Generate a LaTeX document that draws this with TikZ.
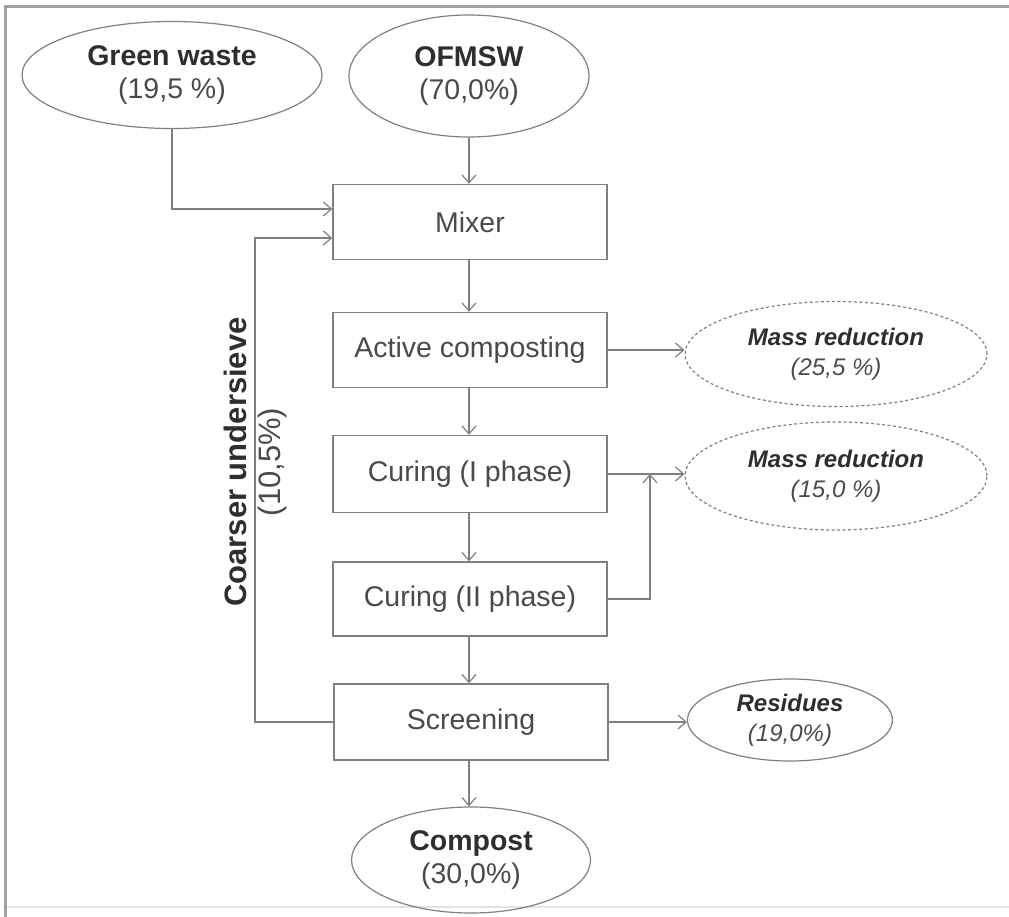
\documentclass[tikz,border=0pt]{standalone}
\usepackage{fontspec}
\setmainfont{Liberation Sans}
\usetikzlibrary{shapes.geometric,arrows.meta}
\definecolor{linec}{HTML}{808080}
\definecolor{txtc}{HTML}{2E2E2E}
\definecolor{pctc}{HTML}{4A4A4A}
\definecolor{framec}{HTML}{A0A0A0}
\definecolor{framelc}{HTML}{E2E2E2}
\begin{document}
\begin{tikzpicture}[x=1pt,y=-1pt,
  box/.style={draw=linec, line width=1.4pt, minimum width=274pt, minimum height=75pt, inner sep=0pt, font=\fontsize{28.5}{33}\selectfont, text=pctc},
  ell/.style={draw=linec, line width=1.2pt, ellipse, inner sep=0pt, align=center, font=\fontsize{28.5}{33}\selectfont, text=pctc},
  dell/.style={ell, dash pattern=on 3pt off 2.5pt, font=\fontsize{24}{30}\selectfont\itshape},
  rell/.style={ell, font=\fontsize{24}{30}\selectfont\itshape},
  arr/.style={draw=linec, line width=1.4pt, -{Straight Barb[length=8pt,width=14pt,line width=1.2pt]}},
  ln/.style={draw=linec, line width=1.4pt}]
\useasboundingbox (0,0) rectangle (1009,917);
\fill[white] (0,0) rectangle (1009,917);
% frame
\draw[framelc, line width=2pt] (5,907) -- (1009,907);
\draw[framec, line width=3pt] (5,917) -- (5,7) -- (1009,7);

% top inputs
\node[ell, minimum width=300pt, minimum height=107pt] (gw) at (172,75)
  {\textcolor{txtc}{\textbf{Green waste}}\\(19,5 \%)};
\node[ell, minimum width=240pt, minimum height=122pt] (of) at (469,76)
  {\textcolor{txtc}{\textbf{OFMSW}}\\(70,0\%)};

% process boxes
\node[box] (mix) at (470,222) {Mixer};
\node[box] (act) at (470,350) {Active composting};
\node[box, minimum height=77pt] (c1) at (470,474) {Curing (I phase)};
\node[box, minimum height=74pt] (c2) at (470,599) {Curing (II phase)};
\node[box, minimum height=76pt] (scr) at (471,722) {Screening};

% outputs
\node[dell, minimum width=302pt, minimum height=105pt] (m1) at (836,354)
  {\textcolor{txtc}{\textbf{Mass reduction}}\\(25,5 \%)};
\node[dell, minimum width=302pt, minimum height=108pt] (m2) at (836,476)
  {\textcolor{txtc}{\textbf{Mass reduction}}\\(15,0 \%)};
\node[rell, minimum width=205pt, minimum height=82pt] (res) at (790,720)
  {\textcolor{txtc}{\textbf{Residues}}\\(19,0\%)};
\node[ell, minimum width=239pt, minimum height=106pt] (cp) at (471,860)
  {\textcolor{txtc}{\textbf{Compost}}\\(30,0\%)};

% recycle label
\coordinate (cl) at (255,462);
\node[rotate=90, align=center, inner sep=0pt, font=\fontsize{31}{34}\selectfont, text=pctc] (lab) at (cl)
  {\textcolor{txtc}{\textbf{Coarser undersieve}}\\(10,5\%)};
\coordinate (jn) at (650,474);

% connectors
\draw[arr] (of.south) -- (of.south |- mix.north);
\draw[arr] (gw.south) |- ([yshift=13pt]mix.west);
\draw[arr] (scr.west) -- (scr.west -| cl) |- ([yshift=-16pt]mix.west);
\draw[arr] (mix.south -| of.south) -- (act.north -| of.south);
\draw[arr] (act.south -| of.south) -- (c1.north -| of.south);
\draw[arr] (c1.south -| of.south) -- (c2.north -| of.south);
\draw[arr] (c2.south -| of.south) -- (scr.north -| of.south);
\draw[arr] (scr.south -| of.south) -- (cp.north -| of.south);
\draw[arr] (act.east) -- (act.east -| m1.west);
\draw[arr] (c1.east) -- (c1.east -| m2.west);
\draw[arr] (c2.east) -| (jn);
\draw[arr] (scr.east) -- (scr.east -| res.west);
\end{tikzpicture}
\end{document}
